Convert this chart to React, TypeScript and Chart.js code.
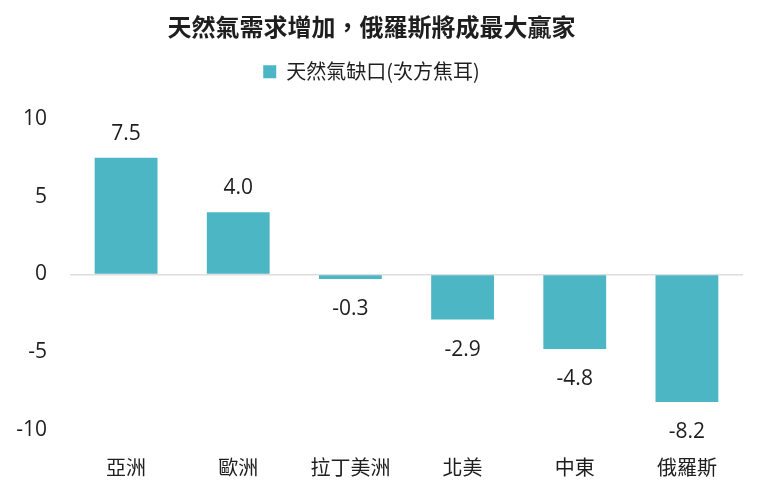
import React, { useEffect, useRef } from "react";
import { Chart, registerables } from "chart.js";

Chart.register(...registerables);

const titleText = "天然氣需求增加，俄羅斯將成最大贏家";
const seriesName = "天然氣缺口(次方焦耳)";
const categories = ["亞洲", "歐洲", "拉丁美洲", "北美", "中東", "俄羅斯"];
const values = [7.5, 4.0, -0.3, -2.9, -4.8, -8.2];
const yTicks = [10, 5, 0, -5, -10];

const barColor = "#4db6c5";
const textColor = "#1e1e1e";
const numFont = "'Open Sans', 'Noto Sans CJK TC', sans-serif";
const cjkFont = "'Noto Sans CJK TC', 'Open Sans', sans-serif";

const valueLabels = {
  id: "valueLabels",
  afterDatasetsDraw(chart: any) {
    const ctx = chart.ctx;
    const meta = chart.getDatasetMeta(0);
    ctx.save();
    ctx.font = `21px ${numFont}`;
    ctx.fillStyle = textColor;
    ctx.textAlign = "center";
    ctx.textBaseline = "middle";
    meta.data.forEach((bar: any, i: number) => {
      const v = values[i];
      const y = v >= 0 ? bar.y - 24 : bar.y + 30;
      ctx.fillText(v.toFixed(1), bar.x, y);
    });
    ctx.restore();
  },
};

const legendGap = {
  id: "legendGap",
  afterInit(chart: any) {
    const lg = chart.legend;
    if (!lg) return;
    const orig = lg.fit;
    lg.fit = function () {
      orig.call(this);
      this.height += 27;
    };
  },
};

export default function App() {
  const ref = useRef<HTMLCanvasElement | null>(null);
  useEffect(() => {
    if (!ref.current) return;
    const chart = new Chart(ref.current, {
      type: "bar",
      data: {
        labels: categories,
        datasets: [
          {
            label: seriesName,
            data: values,
            backgroundColor: barColor,
            borderWidth: 0,
            categoryPercentage: 1,
            barPercentage: 0.56,
          },
        ],
      },
      options: {
        animation: false,
        responsive: false,
        layout: { padding: { top: 12, right: 17, left: 0, bottom: 0 } },
        plugins: {
          title: {
            display: true,
            text: titleText,
            color: textColor,
            font: { family: cjkFont, size: 24, weight: "bold" },
            padding: { top: 0, bottom: 13 },
          },
          legend: {
            display: true,
            labels: {
              color: textColor,
              font: { family: cjkFont, size: 20 },
              boxWidth: 13,
              boxHeight: 13,
              padding: 8,
            },
          },
          tooltip: { enabled: false },
        },
        scales: {
          x: {
            grid: { display: false },
            border: { display: false },
            ticks: {
              color: textColor,
              font: { family: cjkFont, size: 20 },
              padding: 17,
            },
            afterFit(scale: any) {
              scale.height = 65;
            },
          },
          y: {
            min: -10,
            max: 10,
            border: { display: false },
            afterBuildTicks(scale: any) {
              scale.ticks = yTicks.map((v) => ({ value: v }));
            },
            grid: {
              drawTicks: false,
              color: (c: any) => (c.tick && c.tick.value === 0 ? "#dddddd" : "rgba(0,0,0,0)"),
              lineWidth: 1.5,
            },
            ticks: {
              color: textColor,
              font: { family: numFont, size: 21 },
              padding: 23,
            },
            afterFit(scale: any) {
              scale.width = 70;
            },
          },
        },
      },
      plugins: [valueLabels, legendGap],
    });
    return () => chart.destroy();
  }, []);
  return (
    <div style={{ position: "absolute", left: 0, top: 0, width: 760, height: 495, background: "#fff" }}>
      <canvas ref={ref} width={760} height={495} />
    </div>
  );
}
